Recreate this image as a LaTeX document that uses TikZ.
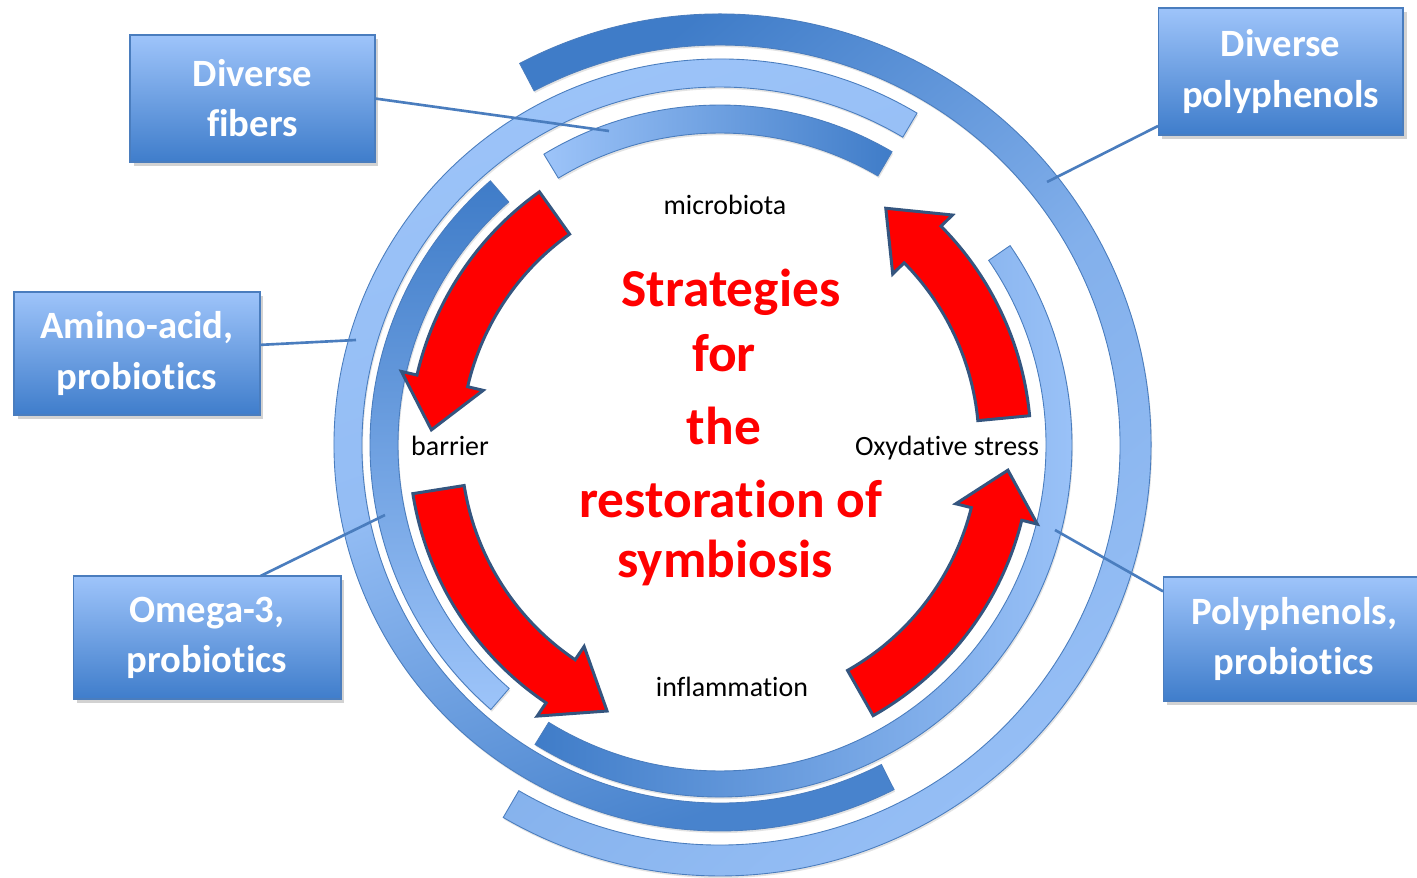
\documentclass[tikz,border=0pt]{standalone}
\usepackage{fontspec}
\setmainfont{Carlito}[Ligatures={NoCommon}]
\usetikzlibrary{shadows,calc}
\definecolor{bdark}{HTML}{3F7CC8}
\definecolor{blight}{HTML}{9DC4F9}
\definecolor{bmid}{HTML}{6E9FE0}
\definecolor{bline}{HTML}{4A7DBE}
\definecolor{arrline}{HTML}{34557F}
\definecolor{boxtop}{HTML}{9EC4FA}
\definecolor{boxbot}{HTML}{3F7DCB}
\tikzset{
 ring/.style={draw=bline, line width=0.5pt, drop shadow={opacity=0.22, shadow xshift=0.6pt, shadow yshift=-1.2pt}},
 redarr/.style={fill=red, draw=arrline, line width=1.7pt, line join=miter},
 infobox/.style={draw=bline, line width=0.6pt, top color=boxtop, bottom color=boxbot, text=white,
   font=\fontsize{22}{28.5}\selectfont\bfseries, align=center, inner sep=0pt, outer sep=0pt,
   drop shadow={opacity=0.35, shadow xshift=2pt, shadow yshift=-2.5pt}},
 lbl/.style={font=\fontsize{15.9}{19}\selectfont, text=black, anchor=base},
 titletext/.style={font=\fontsize{30.4}{36}\selectfont\bfseries, text=red, anchor=base},
 conn/.style={draw=bline, line width=1.5pt},
}
% #1 style, #2 inner radius, #3 outer radius, #4 start angle, #5 end angle
\newcommand{\bandarc}[5]{%
 \path[#1] (#4:#3) arc[start angle=#4, end angle=#5, radius=#3] -- (#5:#2) arc[start angle=#5, end angle=#4, radius=#2] -- cycle;}
% #1 tail angle, #2 head base angle, #3 tip angle
\newcommand{\redarrow}[3]{%
 \path[redarr] (#1:311) arc[start angle=#1, end angle=#2, radius=311] -- (#2:327) -- (#3:289) -- (#2:243) -- (#2:259) arc[start angle=#2, end angle=#1, radius=259] -- cycle;}
\begin{document}
\begin{tikzpicture}[x=0.02cm,y=-0.02cm]
\fill[white] (0,0) rectangle (1417,878);
\useasboundingbox (0,0) rectangle (1417,878);

\begin{scope}[shift={(720,445)}]
 % outermost arc (Diverse polyphenols)
 \bandarc{ring, top color=bdark, bottom color=blight!95!bdark, middle color=blight!72!bdark, shading angle=40}{400}{431}{-117.7}{120.2}
 % second arc (Amino-acid, probiotics)
 \bandarc{ring, top color=blight, bottom color=bdark!90!blight, middle color=blight!90!bdark, shading angle=20}{358}{386}{-59.3}{-296.8}
 % inner arc bottom/right (Polyphenols, probiotics)
 \bandarc{ring, left color=bdark, right color=blight}{326}{352}{121.7}{-34.5}
 % inner arc top (Diverse fibers)
 \bandarc{ring, left color=blight, right color=bdark}{312}{340}{-59.6}{-121.2}
 % inner arc left (Omega-3, probiotics)
 \bandarc{ring, top color=bdark, bottom color=blight}{322}{350}{-131}{-229.1}

 % red circular arrows
 \redarrow{-125.5}{-167}{-177}
 \redarrow{-189}{-236}{-247}
 \redarrow{60.5}{14}{5}
 \redarrow{-5.4}{-44.7}{-55}
\end{scope}

% boxes
\node[infobox, minimum width=4.9cm, minimum height=2.54cm] (fibers) at (252.5,98.5) {Diverse\\fibers};
\node[infobox, minimum width=4.9cm, minimum height=2.54cm] (divpoly) at (1280.5,71.5) {Diverse\\polyphenols};
\node[infobox, minimum width=4.92cm, minimum height=2.46cm] (amino) at (137,353.5) {Amino-acid,\\probiotics};
\node[infobox, minimum width=5.36cm, minimum height=2.46cm] (omega) at (207,637.5) {Omega-3,\\probiotics};
\node[infobox, minimum width=5.24cm, minimum height=2.48cm] (polyp) at (1294,639) {Polyphenols,\\probiotics};

% connector ends on the rings
\coordinate (fibersend) at (609,131);
\coordinate (divpolyend) at (1047,182);
\coordinate (aminoend) at (356,340);
\coordinate (omegaend) at (385,515);
\coordinate (polypend) at (1055,530);

\draw[conn] (fibers.east) -- (fibersend);
\draw[conn] (divpoly.204) -- (divpolyend);
\draw[conn] (amino.4) -- (aminoend);
\draw[conn] (omega.49) -- (omegaend);
\draw[conn] (polyp.160) -- (polypend);

% cycle labels
\node[lbl] (microbiota) at (725,215) {microbiota};
\node[lbl] (barrier) at (450,456) {barrier};
\node[lbl] (oxstress) at (947,456) {Oxydative stress};
\node[lbl] (inflam) at (732,696) {inflammation};

% central title
\node[titletext] (t1) at (731,307) {Strategies};
\node[titletext] (t2) at (724,372) {for};
\node[titletext] (t3) at (724,445) {the};
\node[titletext] (t4) at (731,518) {restoration of};
\node[titletext] (t5) at (725,577) {symbiosis};
\end{tikzpicture}
\end{document}
